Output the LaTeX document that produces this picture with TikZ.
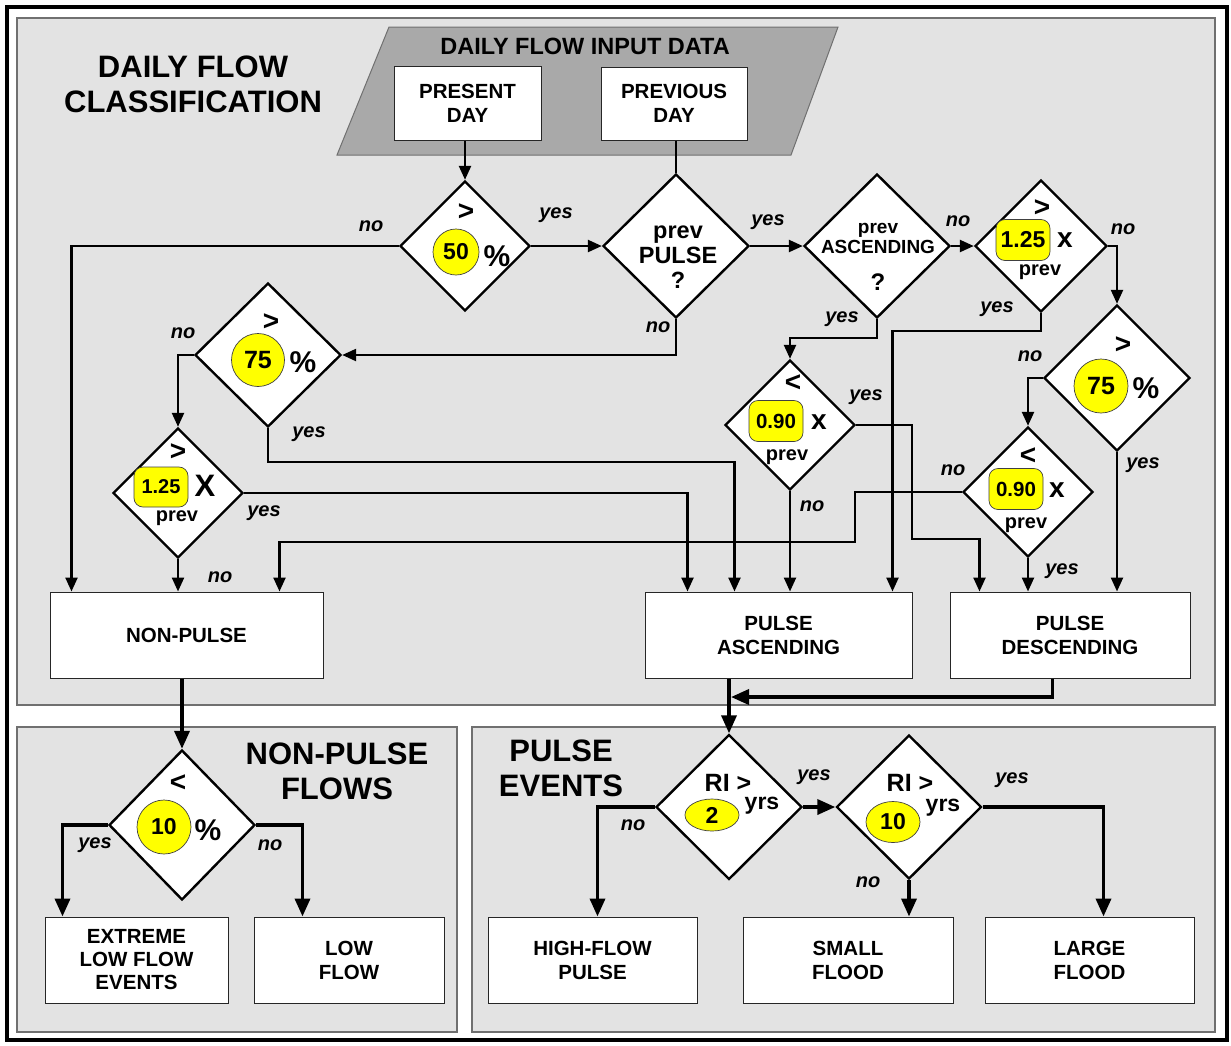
\documentclass[tikz,border=0pt]{standalone}
\usepackage{fontspec}
\setmainfont{Liberation Sans}
\usetikzlibrary{shapes.geometric, arrows.meta, positioning}

\definecolor{panelgray}{HTML}{E3E3E3}
\definecolor{inputgray}{HTML}{A9A9A9}
\definecolor{rimgray}{HTML}{707070}
\definecolor{marker}{HTML}{FFFF00}

\tikzset{
  panel/.style={fill=panelgray, draw=rimgray, line width=1.2pt},
  box/.style={draw=black!85, fill=white, line width=1pt, align=center, inner sep=0pt,
    font=\fontsize{20.5}{24}\selectfont\bfseries},
  heading/.style={align=center, font=\fontsize{31}{35}\selectfont\bfseries},
  test/.style={diamond, draw, fill=white, line width=2.4pt, inner sep=0pt},
  hi/.style={ellipse, draw=black!75, fill=marker, line width=0.7pt, inner sep=0pt},
  hitag/.style={draw=black!75, fill=marker, line width=0.7pt, rounded corners=9pt,
    inner sep=0pt, minimum width=54, minimum height=41},
  cmp/.style={font=\fontsize{28}{28}\selectfont\bfseries},
  pct/.style={font=\fontsize{30}{30}\selectfont\bfseries},
  lbl/.style={font=\fontsize{20}{20}\selectfont\bfseries},
  yn/.style={font=\fontsize{20}{20}\selectfont\bfseries\itshape},
  flow/.style={line width=2.4pt, -{Triangle[length=14pt,width=12pt]}},
  link/.style={line width=2.4pt},
  bigflow/.style={line width=3.6pt, -{Triangle[length=18pt,width=15pt]}},
}

\begin{document}
\begin{tikzpicture}[x=1pt, y=-1pt]
\useasboundingbox (0,0) rectangle (1231,1045);
\fill[white] (0,0) rectangle (1231,1045);
\draw[line width=3.4pt] (7,7) rectangle (1227,1040);

% panels
\draw[panel] (17,18) rectangle (1215,705);
\draw[panel] (17,727) rectangle (457,1032);
\draw[panel] (472,727) rectangle (1215,1032);

\node[heading] (classify) at (193,84) {DAILY FLOW\\CLASSIFICATION};
\node[heading] (npflows) at (337,771) {NON-PULSE\\FLOWS};
\node[heading] (pevents) at (561,768) {PULSE\\EVENTS};

% input data
\filldraw[fill=inputgray, draw=rimgray, line width=1pt]
  (389,27) -- (838,27) -- (791,155) -- (337,155) -- cycle;
\node[font=\fontsize{23.5}{24}\selectfont\bfseries] (input) at (585,46) {DAILY FLOW INPUT DATA};
\node[box, minimum width=147, minimum height=74] (present) at (467.5,103) {PRESENT\\DAY};
\node[box, minimum width=146, minimum height=73] (previous) at (674,103.5) {PREVIOUS\\DAY};

% classes
\node[box, minimum width=273, minimum height=86] (nonpulse) at (186.5,635) {NON-PULSE};
\node[box, minimum width=267, minimum height=86] (pulseasc) at (778.5,635) {PULSE\\ASCENDING};
\node[box, minimum width=240, minimum height=86] (pulsedesc) at (1070,635) {PULSE\\DESCENDING};

% events
\node[box, minimum width=183, minimum height=86, font=\fontsize{20.5}{23}\selectfont\bfseries] (extreme) at (136.5,960) {EXTREME\\LOW FLOW\\EVENTS};
\node[box, minimum width=190, minimum height=86] (lowflow) at (349,960) {LOW\\FLOW};
\node[box, minimum width=209, minimum height=86] (highflow) at (592.5,960) {HIGH-FLOW\\PULSE};
\node[box, minimum width=210, minimum height=86] (small) at (848,960) {SMALL\\FLOOD};
\node[box, minimum width=209, minimum height=86] (large) at (1089.5,960) {LARGE\\FLOOD};

% tests
\node[test, minimum width=130, minimum height=130] (d50) at (465,246) {};
\node[cmp] (d50-op) at (466,212) {>};
\node[hi, minimum width=46, minimum height=46, font=\fontsize{23}{23}\selectfont\bfseries] (d50-val) at (456,252) {50};
\node[pct] (d50-pct) at (497,256) {\%};

\node[test, minimum width=146, minimum height=144] (dpulse) at (676,246) {};
\node[align=center, font=\fontsize{23.5}{25}\selectfont\bfseries] (dpulse-txt) at (678,257) {prev\\PULSE\\?};

\node[test, minimum width=146, minimum height=144] (dasc) at (877,246) {};
\node[align=center, font=\fontsize{19}{20}\selectfont\bfseries] (dasc-txt) at (878,238) {prev\\ASCENDING};
\node[font=\fontsize{24}{24}\selectfont\bfseries] (dasc-q) at (878,282) {?};

\node[test, minimum width=132, minimum height=132] (d125b) at (1041,246) {};
\node[cmp] (d125b-op) at (1042,208) {>};
\node[hitag, font=\fontsize{23}{23}\selectfont\bfseries] (d125b-val) at (1023,240) {1.25};
\node[cmp] (d125b-x) at (1065,240) {x};
\node[lbl] (d125b-prev) at (1040,272) {prev};

\node[test, minimum width=146, minimum height=146] (d75b) at (1117,378) {};
\node[cmp] (d75b-op) at (1123,345) {>};
\node[hi, minimum width=54, minimum height=54, font=\fontsize{25}{25}\selectfont\bfseries] (d75b-val) at (1101,386) {75};
\node[pct] (d75b-pct) at (1146,388) {\%};

\node[test, minimum width=130, minimum height=130] (d090a) at (790,425) {};
\node[cmp] (d090a-op) at (793,383) {<};
\node[hitag, font=\fontsize{20.5}{21}\selectfont\bfseries] (d090a-val) at (776,421) {0.90};
\node[cmp] (d090a-x) at (819,422) {x};
\node[lbl] (d090a-prev) at (787,457) {prev};

\node[test, minimum width=130, minimum height=130] (d090b) at (1028,492) {};
\node[cmp] (d090b-op) at (1028,456) {<};
\node[hitag, font=\fontsize{20.5}{21}\selectfont\bfseries] (d090b-val) at (1016,489) {0.90};
\node[cmp] (d090b-x) at (1057,490) {x};
\node[lbl] (d090b-prev) at (1026,525) {prev};

\node[test, minimum width=146, minimum height=144] (d75a) at (268,355) {};
\node[cmp] (d75a-op) at (271,322) {>};
\node[hi, minimum width=53, minimum height=53, font=\fontsize{25}{25}\selectfont\bfseries] (d75a-val) at (258,360) {75};
\node[pct] (d75a-pct) at (303,362) {\%};

\node[test, minimum width=130, minimum height=130] (d125a) at (178,493) {};
\node[cmp] (d125a-op) at (178,452) {>};
\node[hitag, minimum height=40, font=\fontsize{20}{20}\selectfont\bfseries] (d125a-val) at (161,487) {1.25};
\node[font=\fontsize{31}{31}\selectfont\bfseries] (d125a-x) at (205,486) {X};
\node[lbl] (d125a-prev) at (177,518) {prev};

\node[test, minimum width=146, minimum height=150] (d10) at (182,825) {};
\node[cmp] (d10-op) at (178,783) {<};
\node[hi, minimum width=54, minimum height=54, font=\fontsize{23}{23}\selectfont\bfseries] (d10-val) at (164,827) {10};
\node[pct] (d10-pct) at (208,830) {\%};

\node[test, minimum width=146, minimum height=145] (dri2) at (729,807) {};
\node[font=\fontsize{25}{25}\selectfont\bfseries] (dri2-ri) at (728,783) {RI >};
\node[hi, minimum width=54, minimum height=32, font=\fontsize{23}{23}\selectfont\bfseries] (dri2-val) at (712,815) {2};
\node[font=\fontsize{23}{23}\selectfont\bfseries] (dri2-yrs) at (762,806) {yrs};

\node[test, minimum width=145, minimum height=144] (dri10) at (909,807) {};
\node[font=\fontsize{25}{25}\selectfont\bfseries] (dri10-ri) at (910,783) {RI >};
\node[hi, minimum width=54, minimum height=41, font=\fontsize{23}{23}\selectfont\bfseries] (dri10-val) at (893,822) {10};
\node[font=\fontsize{23}{23}\selectfont\bfseries] (dri10-yrs) at (943,808) {yrs};

% input arrows
\draw[flow] (d50.north |- present.south) -- (d50.north);
\draw[link] (dpulse.north |- previous.south) -- (dpulse.north);

% classification paths
\draw[flow] (d50.west) -| ([xshift=22pt]nonpulse.north west);
\draw[flow] (d50.east) -- (dpulse.west);
\draw[flow] (dpulse.east) -- (dasc.west);
\draw[flow] (dpulse.south) |- (d75a.east);
\draw[flow] (dasc.east) -- (d125b.west);
\draw[flow] (dasc.south) -- ++(0,19) -| (d090a.north);
\draw[flow] (d125b.east) -| (d75b.north);
\draw[flow] (d125b.south) -- ++(0,18) -| ([xshift=248pt]pulseasc.north west);
\draw[flow] (d75b.west) -| (d090b.north);
\draw[flow] (d75b.south) -- (d75b.south |- pulsedesc.north);
\draw[flow] (d090a.east) -| (912,539) -| ([xshift=30pt]pulsedesc.north west);
\draw[flow] (d090a.south) -- (d090a.south |- pulseasc.north);
\draw[flow] (d090b.west) -| (855,542) -| ([xshift=230pt]nonpulse.north west);
\draw[flow] (d090b.south) -- (d090b.south |- pulsedesc.north);
\draw[flow] (d75a.west) -| (d125a.north);
\draw[flow] (d75a.south) -- ++(0,34) -| ([xshift=90pt]pulseasc.north west);
\draw[flow] (d125a.east) -| ([xshift=43pt]pulseasc.north west);
\draw[flow] (d125a.south) -- (d125a.south |- nonpulse.north);

% to the event panels
\coordinate (join) at (731,697);
\draw[bigflow] (d10.north |- nonpulse.south) -- (d10.north);
\draw[bigflow] (dri2.north |- pulseasc.south) -- (dri2.north);
\draw[bigflow] ([xshift=103pt]pulsedesc.south west) |- (join);
\draw[bigflow] (d10.west) -| ([xshift=18pt]extreme.north west);
\draw[bigflow] (d10.east) -| ([xshift=49pt]lowflow.north west);
\draw[bigflow] (dri2.east) -- (dri10.west);
\draw[bigflow] (dri2.west) -| ([xshift=110pt]highflow.north west);
\draw[bigflow] (dri10.south) -- (dri10.south |- small.north);
\draw[bigflow] (dri10.east) -| ([xshift=119pt]large.north west);

% yes / no
\node[yn] (d50-no) at (371,226) {no};
\node[yn] (d50-yes) at (556,215) {yes};
\node[yn] (dpulse-yes) at (768,222) {yes};
\node[yn] (dpulse-no) at (658,327) {no};
\node[yn] (dasc-no) at (958,221) {no};
\node[yn] (dasc-yes) at (842,319) {yes};
\node[yn] (d125b-no) at (1123,229) {no};
\node[yn] (d125b-yes) at (997,309) {yes};
\node[yn] (d75b-no) at (1030,356) {no};
\node[yn] (d75b-yes) at (1143,465) {yes};
\node[yn] (d090a-yes) at (866,397) {yes};
\node[yn] (d090a-no) at (812,506) {no};
\node[yn] (d090b-no) at (953,470) {no};
\node[yn] (d090b-yes) at (1062,571) {yes};
\node[yn] (d75a-no) at (183,333) {no};
\node[yn] (d75a-yes) at (309,434) {yes};
\node[yn] (d125a-yes) at (264,513) {yes};
\node[yn] (d125a-no) at (220,577) {no};
\node[yn] (d10-yes) at (95,845) {yes};
\node[yn] (d10-no) at (270,845) {no};
\node[yn] (dri2-yes) at (814,777) {yes};
\node[yn] (dri2-no) at (633,825) {no};
\node[yn] (dri10-yes) at (1012,780) {yes};
\node[yn] (dri10-no) at (868,882) {no};
\end{tikzpicture}
\end{document}
